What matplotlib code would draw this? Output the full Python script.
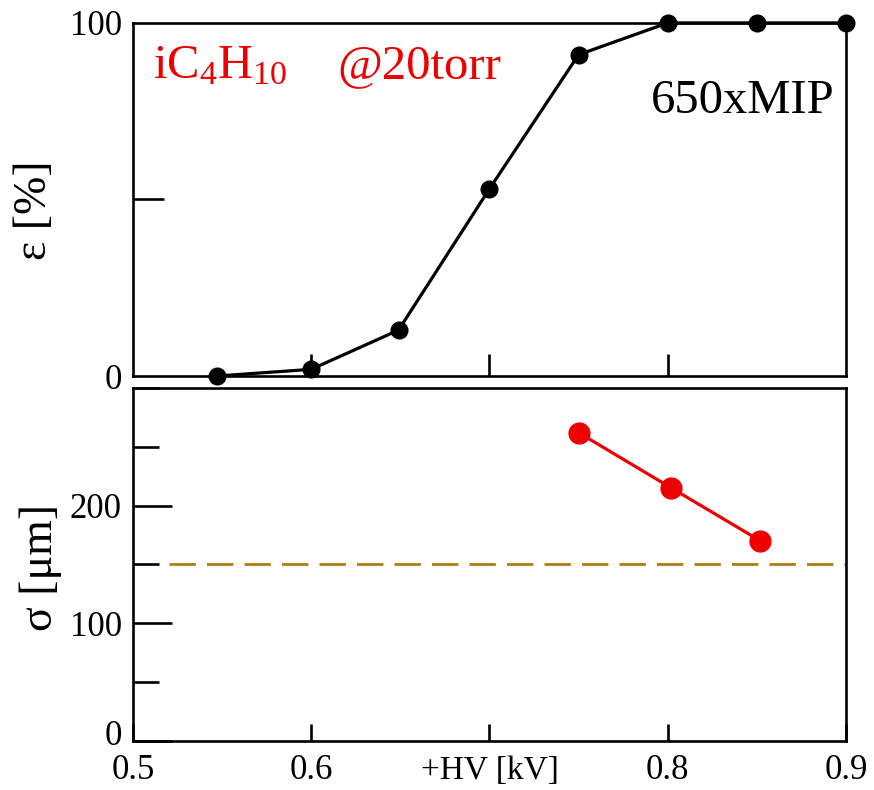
import matplotlib
matplotlib.use("Agg")
import matplotlib.pyplot as plt
import matplotlib.transforms as mtransforms
from matplotlib.ticker import MultipleLocator

plt.rcParams['font.family'] = ['Liberation Serif', 'DejaVu Serif']
plt.rcParams['mathtext.fontset'] = 'custom'
plt.rcParams['mathtext.rm'] = 'Liberation Serif'
plt.rcParams['mathtext.it'] = 'Liberation Serif:italic'
plt.rcParams['lines.scale_dashes'] = False

# efficiency vs HV
hv_eff = [0.547, 0.600, 0.649, 0.700, 0.750, 0.800, 0.850, 0.900]
eff = [0.0, 1.9, 13.0, 53.0, 91.0, 100.0, 100.0, 100.0]

# resolution vs HV
hv_sig = [0.750, 0.802, 0.852]
sigma = [262, 215, 170]

# reference level
ref_x = [0.52, 0.90]
ref_y = [150, 150]

red = '#ee0000'

fig = plt.figure(figsize=(8.74, 7.90), dpi=100)
ax1 = fig.add_axes([0.152, 0.524, 0.816, 0.447])
ax2 = fig.add_axes([0.152, 0.062, 0.816, 0.447])

for ax in (ax1, ax2):
    for s in ax.spines.values():
        s.set_linewidth(1.9)
    ax.set_xlim(0.5, 0.9)
    ax.tick_params(which='both', direction='in', width=1.9, labelsize=25,
                   top=False, right=False)

# top panel
ax1.plot(hv_eff, eff, color='black', lw=2.3, marker='o', ms=12, clip_on=False, zorder=5)
ax1.set_ylim(0, 100)
ax1.set_yticks([0, 100])
ax1.yaxis.set_minor_locator(MultipleLocator(50))
ax1.set_xticks([0.6, 0.7, 0.8])
ax1.tick_params(axis='x', which='major', length=16, labelbottom=False)
ax1.tick_params(axis='y', which='major', length=0, pad=8)
ax1.tick_params(axis='y', which='minor', length=22)
ax1.set_ylabel(r'ε [%]', fontsize=33)
ax1.yaxis.set_label_coords(-0.108, 0.47)
ax1.text(0.028, 0.94, r'iC$_4$H$_{10}$', color=red, fontsize=35,
         transform=ax1.transAxes, ha='left', va='top')
ax1.text(0.287, 0.94, '@20torr', color=red, fontsize=35,
         transform=ax1.transAxes, ha='left', va='top')
ax1.text(0.727, 0.84, '650xMIP', color='black', fontsize=35,
         transform=ax1.transAxes, ha='left', va='top')

# bottom panel
ax2.plot(ref_x, ref_y, color='#b07d14', lw=2.0, dashes=(19, 8))
ax2.plot(hv_sig, sigma, color=red, lw=2.3, marker='o', ms=15, zorder=5)
ax2.set_ylim(0, 300)
ax2.set_yticks([0, 100, 200])
ax2.yaxis.set_minor_locator(MultipleLocator(50))
ax2.set_xticks([0.5, 0.6, 0.7, 0.8, 0.9])
ax2.set_xticklabels(['0.5', '0.6', '', '0.8', '0.9'])
ax2.tick_params(axis='x', which='major', length=12, pad=9)
ax2.tick_params(axis='y', which='major', length=28, pad=8)
ax2.tick_params(axis='y', which='minor', length=19)
ax2.set_ylabel(r'σ [μm]', fontsize=33)
ax2.yaxis.set_label_coords(-0.100, 0.49)
ax2.set_xlabel('+HV [kV]', fontsize=24)
ax2.xaxis.set_label_coords(0.5, -0.04)

# lift the "0" label a little so it clears the x tick labels
fig.canvas.draw()
lab0 = ax2.get_yticklabels()[0]
lab0.set_transform(lab0.get_transform() +
                   mtransforms.ScaledTranslation(0, 6 / 72, fig.dpi_scale_trans))

fig.savefig('out.png', dpi=100)
